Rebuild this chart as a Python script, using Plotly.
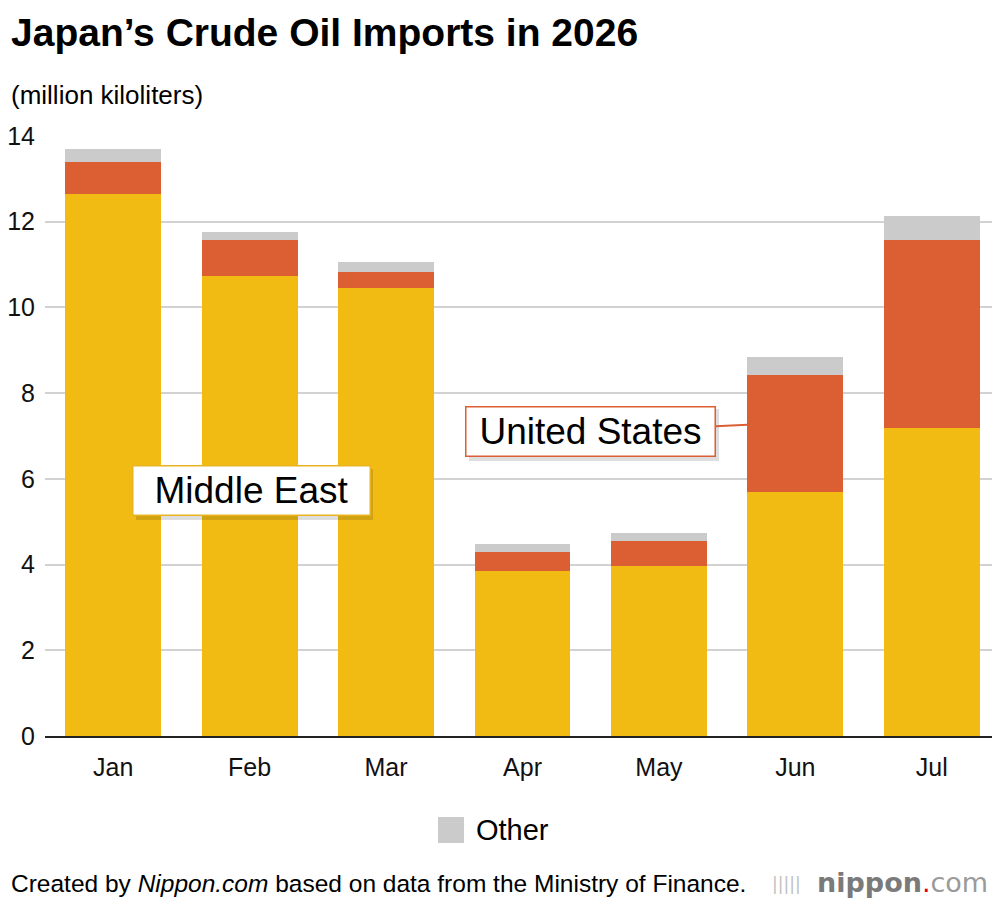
import plotly.graph_objects as go

months = ["Jan", "Feb", "Mar", "Apr", "May", "Jun", "Jul"]
middle_east = [12.65, 10.73, 10.45, 3.85, 3.97, 5.69, 7.19]
united_states = [0.74, 0.84, 0.38, 0.44, 0.58, 2.73, 4.38]
other = [0.31, 0.19, 0.23, 0.19, 0.19, 0.42, 0.56]
y_ticks = [0, 2, 4, 6, 8, 10, 12, 14]

FONT = "Liberation Sans, Arial, sans-serif"
YELLOW = "#f1bb14"
ORANGE = "#db5f32"
GREY = "#cbcbcb"

# page has an 8px body margin, so the figure is 8px smaller than the window
W, H = 992, 890


def px(xr):
    # reference x pixel -> paper x
    return (xr - 45) / 955


def py(yr):
    # reference y pixel -> paper y
    return (736 - yr) / 600


fig = go.Figure()
fig.add_trace(go.Bar(x=months, y=middle_east, name="Middle East",
                     marker_color=YELLOW, marker_line_width=0))
fig.add_trace(go.Bar(x=months, y=united_states, name="United States",
                     marker_color=ORANGE, marker_line_width=0))
fig.add_trace(go.Bar(x=months, y=other, name="Other",
                     marker_color=GREY, marker_line_width=0))

fig.update_layout(
    width=W, height=H,
    barmode="stack", bargap=0.297,
    plot_bgcolor="white", paper_bgcolor="white",
    margin=dict(l=37, r=0, t=128, b=162),
    font=dict(family=FONT, size=25, color="#111"),
    showlegend=False,
)
fig.update_xaxes(showgrid=False, ticks="", tickfont=dict(size=25), ticklabelstandoff=8,
                 showline=True, linecolor="#222", linewidth=1.5, automargin=False)
fig.update_yaxes(range=[0, 14], tickvals=y_ticks, gridcolor="#d2d2d2", gridwidth=1.5,
                 zeroline=False, ticks="", ticklabelstandoff=9, tickfont=dict(size=25),
                 automargin=False)

# soft shadows for callout boxes
for x0, y0, x1, y1 in [(136, 469, 373, 520), (469, 409, 719, 461)]:
    fig.add_shape(type="rect", xref="paper", yref="paper",
                  x0=px(x0), x1=px(x1), y0=py(y1), y1=py(y0),
                  fillcolor="rgba(0,0,0,0.13)", line_width=0, layer="above")

fig.add_annotation(text="Middle East", x=1.01, y=5.72, showarrow=False,
                   font=dict(size=37, color="#000"), bgcolor="white",
                   bordercolor="#e8b520", borderwidth=1.5, width=234, height=46)
fig.add_annotation(text="United States", x=4.65, y=7.26, ax=-157, ay=7,
                   showarrow=True, arrowhead=0, arrowwidth=2, arrowcolor=ORANGE,
                   font=dict(size=37, color="#000"), bgcolor="white",
                   bordercolor=ORANGE, borderwidth=1.5, width=246, height=46)

# legend entry for "Other" (bigger swatch than plotly's built-in legend)
fig.add_shape(type="rect", xref="paper", yref="paper",
              x0=px(438), x1=px(464), y0=py(843), y1=py(817),
              fillcolor=GREY, line_width=0)
fig.add_annotation(text="Other", xref="paper", yref="paper", x=px(474), y=py(830),
                   xanchor="left", yanchor="middle", showarrow=False,
                   font=dict(size=29, color="#000"))

fig.add_annotation(text="<b>Japan’s Crude Oil Imports in 2026</b>", xref="paper", yref="paper",
                   x=px(9), y=py(32), xanchor="left", yanchor="middle",
                   showarrow=False, font=dict(size=39, color="#000"))
fig.add_annotation(text="(million kiloliters)", xref="paper", yref="paper",
                   x=px(9), y=py(95), xanchor="left", yanchor="middle",
                   showarrow=False, font=dict(size=26, color="#000"))
fig.add_annotation(text="Created by <i>Nippon.com</i> based on data from the Ministry of Finance.",
                   xref="paper", yref="paper", x=px(9), y=py(883),
                   xanchor="left", yanchor="middle", showarrow=False,
                   font=dict(size=24.5, color="#000"))
fig.add_annotation(text="|||||", xref="paper", yref="paper", x=px(786), y=py(884),
                   xanchor="center", yanchor="middle", showarrow=False,
                   font=dict(size=17, color="#c0c0c0", family="DejaVu Sans, sans-serif"))
fig.add_annotation(text="<b><span style='color:#7a7a7a'>nippon</span></b>"
                        "<span style='color:#e60012'>.</span>"
                        "<span style='color:#9a9a9a'>com</span>",
                   xref="paper", yref="paper", x=px(990), y=py(882),
                   xanchor="right", yanchor="middle", showarrow=False,
                   font=dict(size=27, family="DejaVu Sans, sans-serif"))

fig.write_html("out.html")
